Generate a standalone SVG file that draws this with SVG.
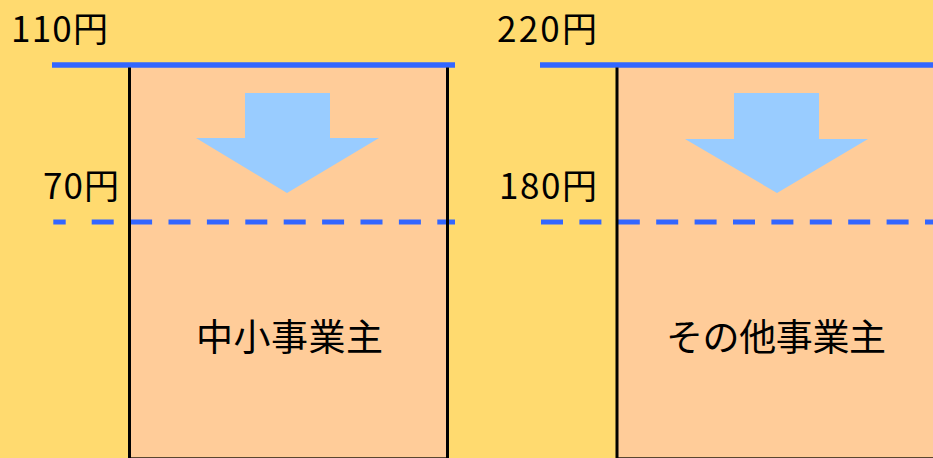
<svg xmlns="http://www.w3.org/2000/svg" width="933" height="458" viewBox="0 0 933 458">
<style>
.lbl{font-family:"Noto Sans CJK JP","Liberation Sans",sans-serif;fill:#000;}
.price{font-size:35px;}
.name{font-size:37px;}
.box{fill:#FFCC99;}
.edge{stroke:#000;stroke-width:3;}
.bottom{stroke:#5a4630;stroke-width:1;}
.solid{stroke:#3366FF;stroke-width:5.5;}
.dash{stroke:#3366FF;stroke-width:5;}
.dashed{stroke:#3366FF;stroke-width:5;stroke-dasharray:22 16.4;}
.arrow{fill:#99CCFF;}
</style>
<rect x="0" y="0" width="933" height="458" fill="#FFDA6F"/>
<g id="node-small">
<rect class="box" x="130" y="65" width="317" height="393"/>
<line class="bottom" x1="130" y1="457.5" x2="447" y2="457.5"/>
<polygon class="arrow" points="245,93 330,93 330,138 379,138 287,193 196,138 245,138"/>
<text class="lbl name" x="196" y="351" textLength="187" lengthAdjust="spacing">中小事業主</text>
</g>
<g id="node-other">
<rect class="box" x="617" y="65" width="316" height="393"/>
<line class="bottom" x1="617" y1="457.5" x2="933" y2="457.5"/>
<polygon class="arrow" points="734,93 819,93 819,139 868,139 777,193 685,139 734,139"/>
<text class="lbl name" x="666" y="351" textLength="220" lengthAdjust="spacing">その他事業主</text>
</g>
<g id="connectors">
<line class="solid" x1="52" y1="65" x2="455" y2="65"/>
<line class="dash" x1="53.3" y1="222" x2="65.7" y2="222"/>
<line class="dashed" x1="91.7" y1="222" x2="455" y2="222"/>
<line class="solid" x1="540" y1="65" x2="933" y2="65"/>
<line class="dashed" x1="541" y1="222" x2="933" y2="222"/>
<line class="edge" x1="129.5" y1="67.5" x2="129.5" y2="458"/>
<line class="edge" x1="447.5" y1="67.5" x2="447.5" y2="458"/>
<line class="edge" x1="617" y1="67.5" x2="617" y2="458"/>
</g>
<g id="labels">
<text class="lbl price" x="11" y="41.5" textLength="97" lengthAdjust="spacing">110円</text>
<text class="lbl price" x="43" y="199" textLength="76" lengthAdjust="spacing">70円</text>
<text class="lbl price" x="497" y="41.5" textLength="100" lengthAdjust="spacing">220円</text>
<text class="lbl price" x="499" y="199" textLength="98" lengthAdjust="spacing">180円</text>
</g>
</svg>
